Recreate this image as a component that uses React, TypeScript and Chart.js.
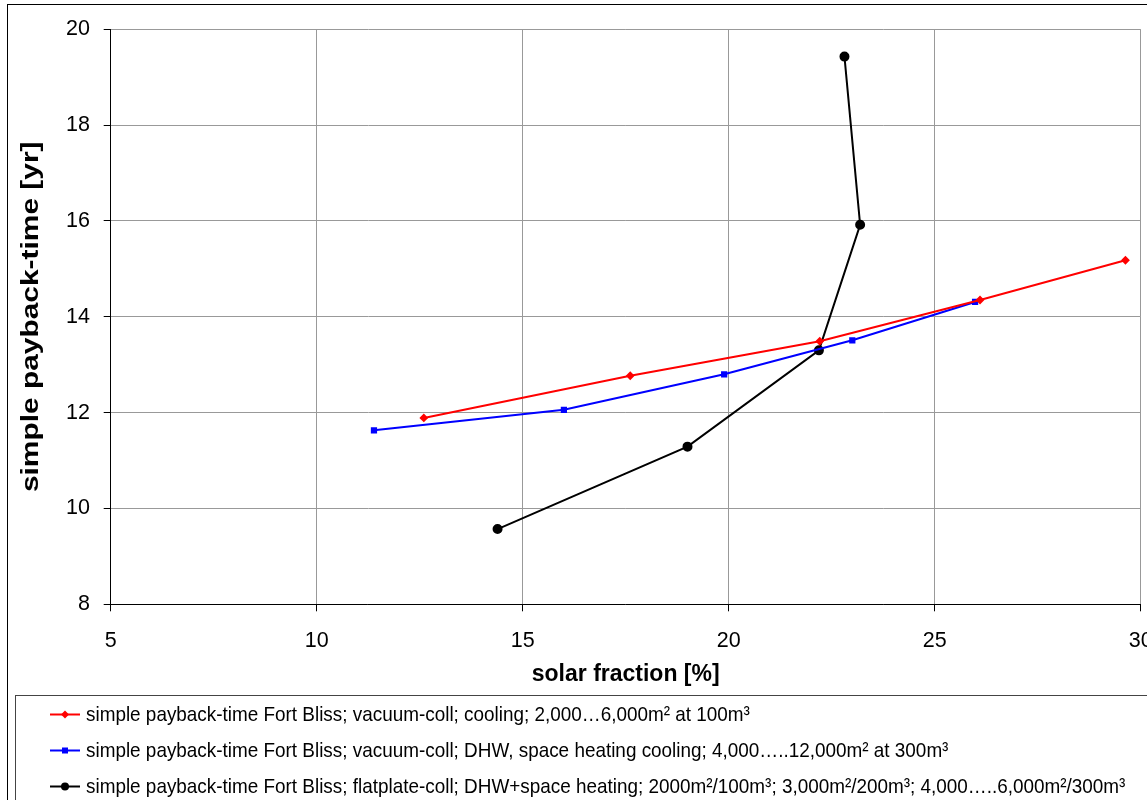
import React, { useEffect, useRef } from "react";
import { Chart, registerables } from "chart.js";

Chart.register(...registerables);

const seriesLabels = [
  "simple payback-time Fort Bliss; vacuum-coll; cooling; 2,000…6,000m² at 100m³",
  "simple payback-time Fort Bliss; vacuum-coll; DHW, space heating cooling; 4,000…..12,000m² at 300m³",
  "simple payback-time Fort Bliss; flatplate-coll; DHW+space heating; 2000m²/100m³; 3,000m²/200m³; 4,000…..6,000m²/300m³",
];

const redX = [12.6, 17.61, 22.21, 26.1, 29.63];
const redY = [11.89, 12.77, 13.49, 14.35, 15.18];
const blueX = [11.39, 16.0, 19.89, 23.0, 25.98];
const blueY = [11.63, 12.06, 12.8, 13.51, 14.31];
const blackX = [14.39, 19.0, 22.19, 23.19, 22.81];
const blackY = [9.57, 11.29, 13.3, 15.92, 19.43];

const xTitle = "solar fraction [%]";
const yTitle = "simple payback-time [yr]";

const FAMILY = '"Liberation Sans", Arial, sans-serif';

const toPts = (xs: number[], ys: number[]) => xs.map((x, i) => ({ x, y: ys[i] }));

const frameAndLegend = {
  id: "frameAndLegend",
  afterDraw(chart: any) {
    const ctx = chart.ctx;
    ctx.save();
    // outer frame
    ctx.strokeStyle = "#000";
    ctx.lineWidth = 1;
    ctx.strokeRect(7.5, 4.5, 1300, 1000);
    // legend box
    ctx.strokeStyle = "#444";
    ctx.strokeRect(15.5, 695.5, 1300, 300);

    // y axis title (stretched along its direction like the original)
    const area = chart.chartArea;
    ctx.save();
    ctx.translate(32, (area.top + area.bottom) / 2);
    ctx.rotate(-Math.PI / 2);
    ctx.scale(1.3, 1);
    ctx.fillStyle = "#000";
    ctx.font = `bold 23px ${FAMILY}`;
    ctx.textAlign = "center";
    ctx.textBaseline = "middle";
    ctx.fillText(yTitle, 0, 0);
    ctx.restore();

    const rows = [714.5, 750.5, 786.5];
    chart.data.datasets.forEach((ds: any, i: number) => {
      const y = rows[i];
      ctx.strokeStyle = ds.borderColor;
      ctx.lineWidth = 2;
      ctx.beginPath();
      ctx.moveTo(50, y);
      ctx.lineTo(80, y);
      ctx.stroke();
      ctx.fillStyle = ds.pointBackgroundColor;
      const r = ds.pointRadius;
      ctx.beginPath();
      if (ds.pointStyle === "circle") {
        ctx.arc(65, y, r, 0, Math.PI * 2);
      } else if (ds.pointStyle === "rect") {
        ctx.rect(65 - r, y - r, 2 * r, 2 * r);
      } else {
        ctx.moveTo(65, y - r - 1);
        ctx.lineTo(65 + r + 1, y);
        ctx.lineTo(65, y + r + 1);
        ctx.lineTo(65 - r - 1, y);
        ctx.closePath();
      }
      ctx.fill();
      ctx.save();
      ctx.translate(86, y);
      ctx.scale(0.9, 1);
      ctx.fillStyle = "#000";
      ctx.font = `21px ${FAMILY}`;
      ctx.textBaseline = "middle";
      ctx.textAlign = "left";
      ctx.fillText(ds.label, 0, 1);
      ctx.restore();
    });
    ctx.restore();
  },
};

export default function App() {
  const ref = useRef<HTMLCanvasElement>(null);
  useEffect(() => {
    if (!ref.current) return;
    const font = { family: FAMILY, size: 21.5 };
    const chart = new Chart(ref.current, {
      type: "scatter",
      data: {
        datasets: [
          {
            label: seriesLabels[0],
            data: toPts(redX, redY),
            showLine: true,
            borderColor: "#ff0000",
            backgroundColor: "#ff0000",
            pointBackgroundColor: "#ff0000",
            pointBorderColor: "#ff0000",
            pointStyle: "rectRot",
            pointRadius: 3,
            borderWidth: 2,
          },
          {
            label: seriesLabels[1],
            data: toPts(blueX, blueY),
            showLine: true,
            borderColor: "#0000ff",
            backgroundColor: "#0000ff",
            pointBackgroundColor: "#0000ff",
            pointBorderColor: "#0000ff",
            pointStyle: "rect",
            pointRadius: 3,
            borderWidth: 2,
          },
          {
            label: seriesLabels[2],
            data: toPts(blackX, blackY),
            showLine: true,
            borderColor: "#000000",
            backgroundColor: "#000000",
            pointBackgroundColor: "#000000",
            pointBorderColor: "#000000",
            pointStyle: "circle",
            pointRadius: 4,
            borderWidth: 2,
          },
        ],
      },
      options: {
        responsive: false,
        animation: false,
        layout: { padding: { top: 29.3, left: 0, right: 6.3, bottom: 105.7 } },
        plugins: { legend: { display: false }, tooltip: { enabled: false } },
        scales: {
          x: {
            type: "linear",
            min: 5,
            max: 30,
            ticks: { stepSize: 5, color: "#000", font, padding: 16.8 },
            grid: { color: "#999", tickColor: "#000", tickLength: 7, lineWidth: 1 },
            border: { color: "#000", width: 1 },
            title: {
              display: true,
              text: xTitle,
              color: "#000",
              font: { family: FAMILY, size: 23, weight: "bold" },
              padding: { top: 0, bottom: 5.5 },
            },
            afterFit: (s: any) => {
              s.height = 90;
              s.paddingRight = 0;
              s.paddingLeft = 0;
            },
          },
          y: {
            type: "linear",
            min: 8,
            max: 20,
            ticks: { stepSize: 2, color: "#000", font, padding: 13.7 },
            grid: { color: "#999", tickColor: "#000", tickLength: 7, lineWidth: 1 },
            border: { color: "#000", width: 1 },
            title: { display: false, text: yTitle },
            afterFit: (s: any) => {
              s.width = 110.7;
            },
          },
        },
      },
      plugins: [frameAndLegend],
    });
    return () => chart.destroy();
  }, []);
  return (
    <canvas
      ref={ref}
      width={1147}
      height={800}
      style={{ position: "absolute", left: 0, top: 0, width: 1147, height: 800 }}
    />
  );
}
